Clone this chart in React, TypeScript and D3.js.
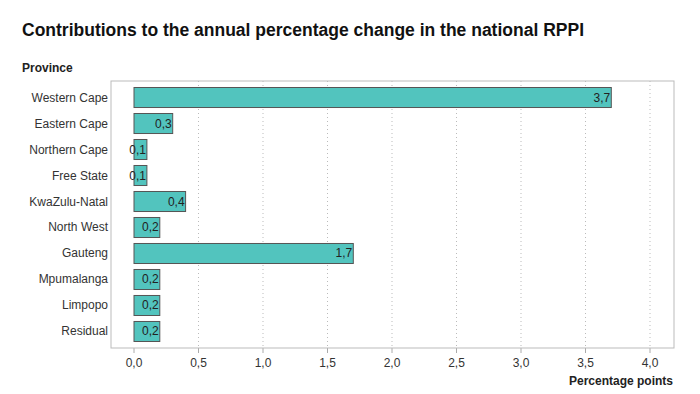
import * as d3 from "d3";

// ---- data ----
const provinces = [
  "Western Cape",
  "Eastern Cape",
  "Northern Cape",
  "Free State",
  "KwaZulu-Natal",
  "North West",
  "Gauteng",
  "Mpumalanga",
  "Limpopo",
  "Residual",
];
const contributions = [3.7, 0.3, 0.1, 0.1, 0.4, 0.2, 1.7, 0.2, 0.2, 0.2];
const xTicks = [0, 0.5, 1, 1.5, 2, 2.5, 3, 3.5, 4];

const title = "Contributions to the annual percentage change in the national RPPI";
const yTitle = "Province";
const xTitle = "Percentage points";

const W = 700;
const H = 394;
const FONT = "'Liberation Sans', Arial, sans-serif";

// plot box
const box = { left: 111, right: 674, top: 81, bottom: 348 };

const fmt = (v: number) => v.toFixed(1).replace(".", ",");

export default function App() {
  const x = d3.scaleLinear().domain([0, 4]).range([134, 650]);
  const y = d3
    .scaleBand<string>()
    .domain(provinces)
    .range([box.top, box.bottom])
    .paddingInner(0.23)
    .paddingOuter(0.25);

  const rows = provinces.map((p, i) => ({ p, v: contributions[i] }));

  return (
    <svg
      width={W}
      height={H}
      style={{ position: "absolute", left: 0, top: 0, background: "#fff" }}
      fontFamily={FONT}
    >
      <text x={22} y={36} fontSize={17.5} fontWeight="bold" fill="#111">
        {title}
      </text>
      <text x={22} y={72} fontSize={12} fontWeight="bold" fill="#222">
        {yTitle}
      </text>

      {/* grid + ticks */}
      {xTicks.map((t) => (
        <g key={t}>
          {t > 0 && (
            <line
              x1={x(t)}
              x2={x(t)}
              y1={box.top}
              y2={box.bottom}
              stroke="#bbb"
              strokeDasharray="1,3"
            />
          )}
          <line x1={x(t)} x2={x(t)} y1={box.bottom} y2={box.bottom + 5} stroke="#aaa" />
          <text x={x(t)} y={367} fontSize={12} fill="#333" textAnchor="middle">
            {fmt(t)}
          </text>
        </g>
      ))}

      <rect
        x={box.left}
        y={box.top}
        width={box.right - box.left}
        height={box.bottom - box.top}
        fill="none"
        stroke="#bbb"
      />

      {rows.map((d) => {
        const y0 = y(d.p) as number;
        const bw = y.bandwidth();
        return (
          <g key={d.p}>
            <rect
              x={x(0)}
              y={y0}
              width={x(d.v) - x(0)}
              height={bw}
              fill="#52C4BE"
              stroke="#555"
              strokeWidth={1}
            />
            <text
              x={x(d.v) - 1}
              y={y0 + bw / 2 + 4}
              fontSize={12}
              fill="#222"
              textAnchor="end"
            >
              {fmt(d.v)}
            </text>
            <text
              x={108}
              y={y0 + bw / 2 + 4}
              fontSize={12}
              fill="#333"
              textAnchor="end"
            >
              {d.p}
            </text>
          </g>
        );
      })}

      <text x={673} y={385} fontSize={12} fontWeight="bold" fill="#222" textAnchor="end">
        {xTitle}
      </text>
    </svg>
  );
}
